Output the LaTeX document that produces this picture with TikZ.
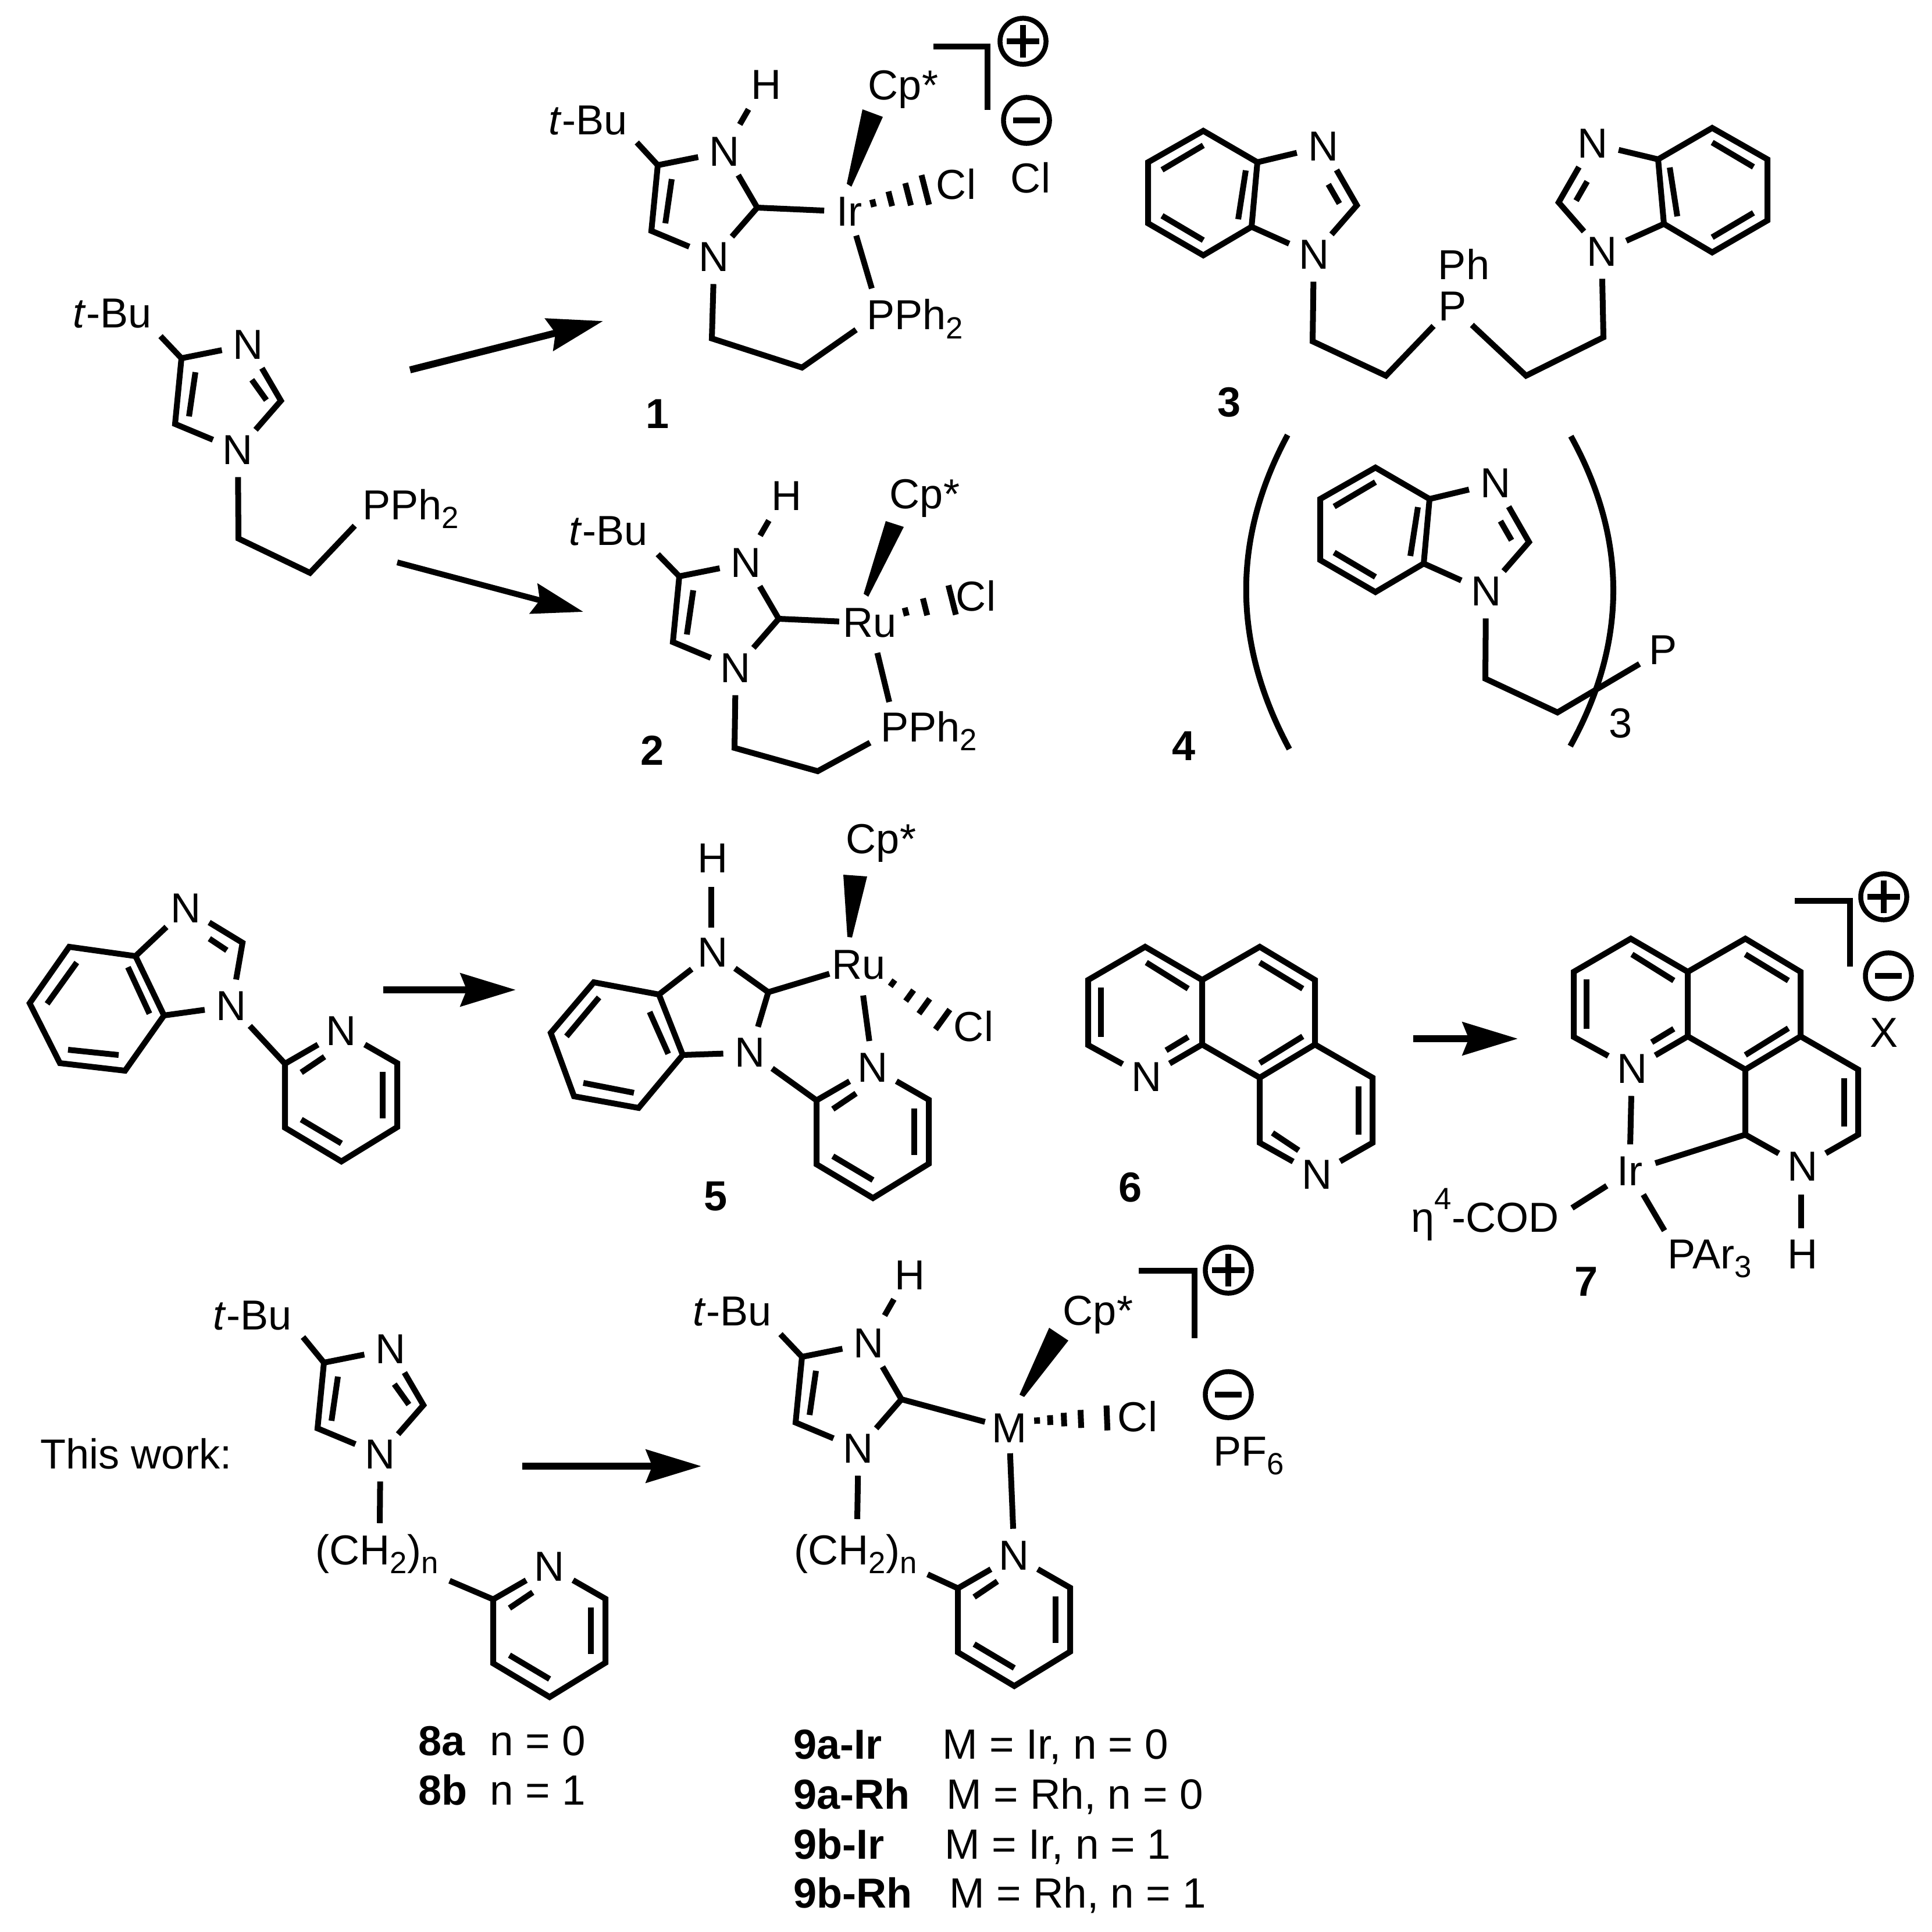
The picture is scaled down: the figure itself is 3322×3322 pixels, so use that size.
\documentclass[tikz,border=0pt]{standalone}
\usepackage{fontspec}
\setmainfont{Liberation Sans}
\usetikzlibrary{arrows.meta,calc}
\newcommand{\sbs}[1]{\raisebox{-4.3pt}{\fontsize{15}{16}\selectfont #1}}
\newcommand{\imid}[3]{\begin{scope}[shift={(#2,#3)},name prefix=#1-]
 \coordinate (c4) at (0,0); \coordinate (c5) at (-11,113); \coordinate (c2) at (171,73);
 \node[atom] (n1) at (97,158) {N}; \node[atom] (n3) at (115,-23) {N};
 \coordinate (d1) at (24,24); \coordinate (d2) at (13,100);
 \coordinate (e1) at (121,37); \coordinate (e2) at (146,72);
 \draw[bond] (n3)--(c4)--(c5)--(n1); \draw[bond] (n3)--(c2)--(n1); \draw[bond] (d1)--(d2);
\end{scope}}
\newcommand{\benzim}[2]{\begin{scope}[#2,name prefix=#1-]
 \coordinate (a) at (0,0); \coordinate (b) at (-10,111); \coordinate (c) at (-93,160);
 \coordinate (d) at (-188,105); \coordinate (e) at (-188,0); \coordinate (f) at (-93,-54);
 \coordinate (c2) at (171,74); \node[atom] (n3) at (113,-27) {N}; \node[atom] (n1) at (97,159) {N};
 \coordinate (g1) at (122,38); \coordinate (g2) at (141,71);
 \draw[bond] (a)--(b)--(c)--(d)--(e)--(f)--cycle; \draw[bond] (a)--(n3)--(c2)--(n1)--(b);
 \coordinate (i1) at (-164,13); \coordinate (i2) at (-93,-29); \coordinate (i3) at (-164,92); \coordinate (i4) at (-93,134);
 \coordinate (i5) at (-20,14); \coordinate (i6) at (-33,98);
 \draw[bond] (i1)--(i2); \draw[bond] (i3)--(i4); \draw[bond] (i5)--(i6); \draw[bond] (g1)--(g2);
\end{scope}}
\newcommand{\pyr}[3]{\begin{scope}[shift={(#2,#3)},name prefix=#1-]
 \coordinate (a) at (0,0); \node[atom] (n) at (97,-56) {N}; \coordinate (c) at (193,-1); \coordinate (d) at (193,109);
 \coordinate (e) at (97,168); \coordinate (f) at (0,110);
 \draw[bond] (n)--(c)--(d)--(e)--(f)--(a)--(n);
 \coordinate (i1) at (28,15); \coordinate (i2) at (68,-12); \coordinate (i3) at (168,14); \coordinate (i4) at (168,94);
 \coordinate (i5) at (28,96); \coordinate (i6) at (97,137);
 \draw[bond] (i1)--(i2); \draw[bond] (i3)--(i4); \draw[bond] (i5)--(i6);
\end{scope}}
\newcommand{\phen}[3]{\begin{scope}[shift={(#2,#3)},name prefix=#1-]
 \coordinate (a) at (0,0); \coordinate (b) at (98,-57); \coordinate (c) at (196,0); \coordinate (d) at (295,-57);
 \coordinate (e) at (390,0); \coordinate (f) at (390,111); \coordinate (g) at (196,111); \coordinate (h) at (295,168);
 \coordinate (i) at (0,112); \coordinate (j) at (489,168); \coordinate (k) at (489,280); \coordinate (l) at (295,280);
 \node[atom] (n1) at (100,167) {N}; \node[atom] (n2) at (393,335) {N};
 \draw[bond] (g)--(c)--(b)--(a)--(i)--(n1)--(g)--(h)--(f)--(e)--(d)--(c);
 \draw[bond] (f)--(j)--(k)--(n2)--(l)--(h);
 \foreach \p/\q [count=\r] in {22/13,100/-30,295/-30,295/143,134/121,465/183}{\coordinate (s\r) at (\p,\q);}
 \foreach \p/\q [count=\r] in {22/98,172/15,369/15,369/97,172/98,465/266}{\coordinate (t\r) at (\p,\q);}
 \foreach \r in {1,...,6}{\draw[bond] (s\r)--(t\r);}
\end{scope}}
\newcommand{\hashw}[5]{\coordinate (#1) at (#2); \coordinate (#1e) at (#3);
 \foreach \t in {#5}{\pgfmathsetmacro{\h}{1.2+\t*#4}
 \draw[bond] ($(#1)!\t!(#1e)!\h pt!90:(#1e)$) -- ($(#1)!\t!(#1e)!\h pt!-90:(#1e)$);}}
\newcommand{\pluschg}[3]{\node[chg] (#1) at (#2,#3) {};
 \draw[sign] ([xshift=-8pt]#1.center)--([xshift=8pt]#1.center);
 \draw[sign] ([yshift=-8pt]#1.center)--([yshift=8pt]#1.center);}
\newcommand{\minuschg}[3]{\node[chg] (#1) at (#2,#3) {};
 \draw[sign] ([xshift=-6.5pt]#1.center)--([xshift=6.5pt]#1.center);}
\tikzset{
 atom/.style={circle,inner sep=0pt,minimum size=26pt},
 metal/.style={circle,inner sep=0pt,minimum size=24pt},
 lab/.style={inner sep=0pt},
 bold/.style={inner sep=0pt,font=\fontsize{20.5}{23}\selectfont\bfseries},
 big/.style={inner sep=0pt,font=\fontsize{20.7}{23}\selectfont},
 bond/.style={line width=2.85pt},
 chg/.style={circle,draw,line width=2.4pt,inner sep=0pt,minimum size=22.5pt},
 sign/.style={line width=3pt},
 rxnA/.style={line width=3.4pt,-{Stealth[length=27pt,width=16pt,inset=3pt]}},
 rxnB/.style={line width=2.85pt,-{Stealth[length=25pt,width=15pt,inset=3pt]}},
}
\begin{document}
\begin{tikzpicture}[x=0.01cm,y=-0.01cm,font=\fontsize{20.5}{22}\selectfont]
\useasboundingbox (0,0) rectangle (3322,3322);
\fill[white] (0,0) rectangle (3322,3322);
% A
\imid{A}{312}{616}
\draw[bond] (A-e1)--(A-e2);
\node[lab] (Atb) at (193,539) {\textit{t}-Bu};
\coordinate (Atbe) at (276,578); \draw[bond] (Atbe)--(A-c4);
\coordinate (Ax) at (410,926); \coordinate (Ay) at (533,985); \coordinate (Az) at (610,904);
\draw[bond] (A-n1)--(Ax)--(Ay)--(Az);
\node[lab,anchor=base west] (Ap) at (623,893) {PPh\sbs{2}};
% arrows
\coordinate (r1a) at (705,636); \coordinate (r1b) at (1037,552); \draw[rxnA] (r1a)--(r1b);
\coordinate (r2a) at (683,967); \coordinate (r2b) at (1003,1052); \draw[rxnB] (r2a)--(r2b);
% 1
\imid{S1}{1131}{284}
\node[lab] (S1h) at (1318,146) {H}; \draw[bond] (1287,188) coordinate (S1ha) -- (1272,214) coordinate (S1hb);
\node[lab] (S1tb) at (1011,207) {\textit{t}-Bu}; \coordinate (S1te) at (1095,245); \draw[bond] (S1te)--(S1-c4);
\node[metal] (S1m) at (1460,364) {Ir}; \draw[bond] (S1-c2)--(S1m);
\node[lab] (S1cp) at (1553,154) {Cp*};
\coordinate (S1w0) at (1456,316); \coordinate (S1w1) at (1464,321); \coordinate (S1w2) at (1518,201); \coordinate (S1w3) at (1483,188);
\fill (S1w0)--(S1w1)--(S1w2)--(S1w3)--cycle;
\node[lab] (S1cl) at (1644,317) {Cl};
\hashw{S1hash}{1491,352}{1593,326}{6.4}{0.1,0.39,0.69,0.98}
\coordinate (S1p) at (1499,496); \draw[bond] (S1m)--(S1p);
\node[lab,anchor=base west] (S1pp) at (1490,567) {PPh\sbs{2}};
\coordinate (S1x) at (1224,582); \coordinate (S1y) at (1379,632); \coordinate (S1z) at (1472,567);
\draw[bond] (S1-n1)--(S1x)--(S1y)--(S1z);
\node[bold] (L1) at (1131,712) {1};
\coordinate (bk1a) at (1605,80); \coordinate (bk1b) at (1698,80); \coordinate (bk1c) at (1698,189);
\draw[bond] (bk1a)--(bk1b)--(bk1c);
\pluschg{pA}{1759}{71}
\minuschg{mA}{1765}{207}
\node[lab] (clA) at (1772,306) {Cl};
% 2
\imid{S2}{1168}{991}
\node[lab] (S2h) at (1353,853) {H}; \draw[bond] (1322,895) coordinate (S2ha) -- (1307,921) coordinate (S2hb);
\node[lab] (S2tb) at (1046,913) {\textit{t}-Bu}; \coordinate (S2te) at (1131,953); \draw[bond] (S2te)--(S2-c4);
\node[metal] (S2m) at (1496,1071) {Ru}; \draw[bond] (S2-c2)--(S2m);
\node[lab] (S2cp) at (1590,857) {Cp*};
\coordinate (S2w0) at (1485,1021); \coordinate (S2w1) at (1493,1026); \coordinate (S2w2) at (1554,906); \coordinate (S2w3) at (1523,896);
\fill (S2w0)--(S2w1)--(S2w2)--(S2w3)--cycle;
\node[lab] (S2cl) at (1678,1025) {Cl};
\hashw{S2hash}{1545,1055}{1640,1031}{6.4}{0.13,0.48,0.97}
\coordinate (S2p) at (1529,1207); \draw[bond] (S2m)--(S2p);
\node[lab,anchor=base west] (S2pp) at (1514,1275) {PPh\sbs{2}};
\coordinate (S2x) at (1263,1286); \coordinate (S2y) at (1406,1326); \coordinate (S2z) at (1496,1277);
\draw[bond] (S2-n1)--(S2x)--(S2y)--(S2z);
\node[bold] (L2) at (1122,1290) {2};
% 3
\benzim{Bl}{shift={(2162,279)}}
\benzim{Br}{shift={(2851,274)},xscale=-1}
\node[atom] (P3) at (2497,527) {P}; \node[lab] (Ph3) at (2517,454) {Ph};
\coordinate (3a) at (2257,587); \coordinate (3b) at (2383,646);
\coordinate (3c) at (2624,646); \coordinate (3d) at (2757,580);
\draw[bond] (Bl-n1)--(3a)--(3b)--(P3)--(3c)--(3d)--(Br-n1);
\node[bold] (L3) at (2114,692) {3};
% 4
\benzim{B4}{shift={(2458,858)}}
\coordinate (4a) at (2554,1167); \coordinate (4b) at (2678,1225); \node[atom] (P4) at (2859,1118) {P};
\draw[bond] (B4-n1)--(4a)--(4b)--(P4);
\coordinate (pl1) at (2214,748); \coordinate (plc1) at (2117,928); \coordinate (plc2) at (2120,1108); \coordinate (pl2) at (2217,1288);
\coordinate (pr1) at (2701,750); \coordinate (prc1) at (2799,927); \coordinate (prc2) at (2798,1106); \coordinate (pr2) at (2700,1283);
\draw[bond] (pl1) .. controls (plc1) and (plc2) .. (pl2);
\draw[bond] (pr1) .. controls (prc1) and (prc2) .. (pr2);
\node[lab] (sub3) at (2786,1244) {3};
\node[bold] (L4) at (2036,1283) {4};
% row 2 left
\coordinate (ca) at (233,1644); \coordinate (cb) at (282,1746); \coordinate (cc) at (215,1841); \coordinate (cd) at (103,1828);
\coordinate (ce) at (51,1725); \coordinate (cf) at (119,1628); \coordinate (cg) at (417,1621);
\node[atom] (cn3) at (320,1562) {N}; \node[atom] (cn1) at (398,1730) {N};
\draw[bond] (ca)--(cb)--(cc)--(cd)--(ce)--(cf)--cycle; \draw[bond] (ca)--(cn3)--(cg)--(cn1)--(cb);
\coordinate (ci1) at (132,1655); \coordinate (ci2) at (81,1726); \coordinate (ci3) at (117,1805); \coordinate (ci4) at (204,1814);
\coordinate (ci5) at (220,1663); \coordinate (ci6) at (257,1743); \coordinate (ci7) at (360,1614); \coordinate (ci8) at (390,1634);
\draw[bond] (ci1)--(ci2); \draw[bond] (ci3)--(ci4); \draw[bond] (ci5)--(ci6); \draw[bond] (ci7)--(ci8);
\pyr{cp}{490}{1829}
\draw[bond] (cn1)--(cp-a);
\coordinate (r3a) at (659,1702); \coordinate (r3b) at (887,1702); \draw[rxnA] (r3a)--(r3b);
% 5
\coordinate (da) at (1133,1710); \coordinate (db) at (1174,1814); \coordinate (dc) at (1098,1905); \coordinate (dd) at (987,1885);
\coordinate (de) at (947,1776); \coordinate (df) at (1021,1689); \coordinate (dg) at (1321,1706);
\node[atom] (dn3) at (1226,1638) {N}; \node[atom] (dn1) at (1290,1810) {N};
\draw[bond] (da)--(db)--(dc)--(dd)--(de)--(df)--cycle; \draw[bond] (da)--(dn3)--(dg)--(dn1)--(db);
\coordinate (di1) at (1030,1715); \coordinate (di2) at (974,1782); \coordinate (di3) at (1003,1862); \coordinate (di4) at (1090,1879);
\coordinate (di5) at (1117,1740); \coordinate (di6) at (1149,1812);
\draw[bond] (di1)--(di2); \draw[bond] (di3)--(di4); \draw[bond] (di5)--(di6);
\node[lab] (dh) at (1226,1476) {H}; \coordinate (dh1) at (1223,1525); \coordinate (dh2) at (1223,1595); \draw[bond] (dh1)--(dh2);
\node[metal] (dm) at (1477,1659) {Ru}; \draw[bond] (dg)--(dm);
\node[lab] (dcp) at (1515,1450) {Cp*};
\coordinate (dw0) at (1457,1611); \coordinate (dw1) at (1465,1612); \coordinate (dw2) at (1491,1507); \coordinate (dw3) at (1450,1504);
\fill (dw0)--(dw1)--(dw2)--(dw3)--cycle;
\node[lab] (dcl) at (1674,1765) {Cl};
\hashw{dhash}{1520,1680}{1625,1756}{5}{0.14,0.42,0.66,0.96}
\pyr{dp}{1404}{1892}
\draw[bond] (dn1)--(dp-a); \draw[bond] (dm)--(dp-n);
\node[bold] (L5) at (1231,2057) {5};
% 6
\phen{F}{1871}{1685}
\coordinate (f1) at (2188,1948); \coordinate (f2) at (2233,1978); \draw[bond] (f1)--(f2);
\node[bold] (L6) at (1944,2042) {6};
\coordinate (r4a) at (2430,1786); \coordinate (r4b) at (2610,1786); \draw[rxnA] (r4a)--(r4b);
% 7
\phen{G}{2706}{1671}
\node[atom] (gir) at (2802,2014) {Ir}; \node[lab] (gh) at (3099,2157) {H};
\draw[bond] (G-n1)--(gir); \draw[bond] (gir)--(G-l);
\coordinate (gh1) at (3097,2054); \coordinate (gh2) at (3097,2112); \draw[bond] (gh1)--(gh2);
\node[lab,anchor=base east] (gcod) at (2681,2118) {η\raisebox{11pt}{\fontsize{15}{16}\selectfont 4}-COD};
\coordinate (gc1) at (2703,2077); \draw[bond] (gir)--(gc1);
\node[lab,anchor=base west] (gpar) at (2867,2181) {PAr\sbs{3}};
\coordinate (gp1) at (2862,2116); \draw[bond] (gir)--(gp1);
\node[bold] (L7) at (2727,2204) {7};
\coordinate (bk2a) at (3086,1549); \coordinate (bk2b) at (3181,1549); \coordinate (bk2c) at (3181,1662);
\draw[bond] (bk2a)--(bk2b)--(bk2c);
\pluschg{pB}{3239}{1542}
\minuschg{mB}{3247}{1678}
\node[lab] (xB) at (3239,1776) {X};
% 8
\node[lab] (tw) at (234,2500) {This work:};
\imid{H}{557}{2343}
\draw[bond] (H-e1)--(H-e2);
\node[lab] (Htb) at (434,2262) {\textit{t}-Bu}; \coordinate (Hte) at (521,2299); \draw[bond] (Hte)--(H-c4);
\node[lab,anchor=base west] (Hch) at (542,2690) {(CH\sbs{2})\sbs{n}};
\coordinate (Hce) at (653,2619); \draw[bond] (H-n1)--(Hce);
\pyr{Hp}{848}{2750}
\coordinate (Hcf) at (773,2718); \draw[bond] (Hcf)--(Hp-a);
\coordinate (r5a) at (898,2521); \coordinate (r5b) at (1206,2521); \draw[rxnA] (r5a)--(r5b);
% 9
\imid{J}{1379}{2333}
\node[lab] (Jh) at (1565,2193) {H}; \draw[bond] (1537,2234) coordinate (Jh1)--(1521,2262) coordinate (Jh2);
\node[lab] (Jtb) at (1259,2255) {\textit{t}-Bu}; \coordinate (Jte) at (1342,2294); \draw[bond] (Jte)--(J-c4);
\node[metal] (Jm) at (1735,2456) {M}; \draw[bond] (J-c2)--(Jm);
\node[lab] (Jcp) at (1888,2261) {Cp*};
\coordinate (Jw0) at (1753,2398); \coordinate (Jw1) at (1761,2402); \coordinate (Jw2) at (1837,2305); \coordinate (Jw3) at (1804,2283);
\fill (Jw0)--(Jw1)--(Jw2)--(Jw3)--cycle;
\node[lab] (Jcl) at (1956,2436) {Cl};
\hashw{Jhash}{1774,2443}{1906,2438}{5}{0.07,0.24,0.42,0.64,0.98}
\pyr{Jp}{1647}{2731}
\draw[bond] (Jm)--(Jp-n);
\node[lab,anchor=base west] (Jch) at (1365,2690) {(CH\sbs{2})\sbs{n}};
\coordinate (Jce) at (1474,2612); \draw[bond] (J-n1)--(Jce);
\coordinate (Jcf) at (1595,2707); \draw[bond] (Jcf)--(Jp-a);
\coordinate (bk3a) at (1958,2185); \coordinate (bk3b) at (2054,2185); \coordinate (bk3c) at (2054,2301);
\draw[bond] (bk3a)--(bk3b)--(bk3c);
\pluschg{pC}{2112}{2184}
\minuschg{mC}{2112}{2398}
\node[lab,anchor=base west] (pf) at (2086,2520) {PF\sbs{6}};
% labels
\node[bold,anchor=base west] (l8a) at (719,3018) {8a}; \node[big,anchor=base west] (t8a) at (842,3018) {n = 0};
\node[bold,anchor=base west] (l8b) at (719,3103) {8b}; \node[big,anchor=base west] (t8b) at (842,3103) {n = 1};
\node[bold,anchor=base west] (l9a) at (1364,3024) {9a-Ir}; \node[big,anchor=base west] (t9a) at (1620,3024) {M = Ir, n = 0};
\node[bold,anchor=base west] (l9b) at (1364,3110) {9a-Rh}; \node[big,anchor=base west] (t9b) at (1627,3110) {M = Rh, n = 0};
\node[bold,anchor=base west] (l9c) at (1364,3196) {9b-Ir}; \node[big,anchor=base west] (t9c) at (1624,3196) {M = Ir, n = 1};
\node[bold,anchor=base west] (l9d) at (1364,3280) {9b-Rh}; \node[big,anchor=base west] (t9d) at (1632,3280) {M = Rh, n = 1};
\end{tikzpicture}
\end{document}
